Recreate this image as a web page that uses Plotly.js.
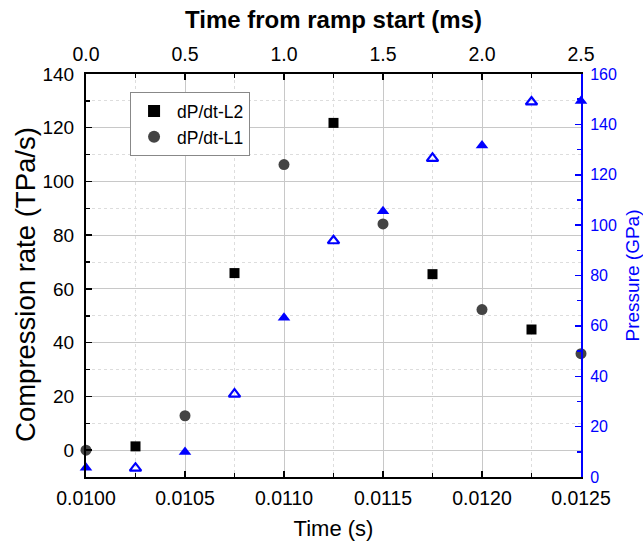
<!DOCTYPE html>
<html>
<head>
<meta charset="utf-8">
<script src="https://cdn.plot.ly/plotly-3.0.1.min.js"></script>
<style>html,body{margin:0;padding:0;background:#fff;}#chart{width:643px;height:542px;}</style>
</head>
<body>
<div id="chart"></div>
<script>
// Compression rate, dP/dt-L2 (squares)
const timeL2 = [0.01025, 0.01075, 0.01125, 0.01175, 0.01225];
const rateL2 = [1.4, 65.9, 121.8, 65.5, 44.9];
// Compression rate, dP/dt-L1 (circles)
const timeL1 = [0.0100, 0.0105, 0.0110, 0.0115, 0.0120, 0.0125];
const rateL1 = [0.0, 12.8, 106.3, 84.2, 52.3, 35.9];
// Pressure, filled triangles
const timeP1 = [0.0100, 0.0105, 0.0110, 0.0115, 0.0120, 0.0125];
const pressP1 = [3.7, 9.9, 63.2, 105.5, 131.6, 149.3];
// Pressure, open triangles
const timeP2 = [0.01025, 0.01075, 0.01125, 0.01175, 0.01225];
const pressP2 = [3.5, 32.9, 93.8, 126.5, 148.9];
// Top axis (ms from ramp start)
const topRange = [0, 2.5];

const FONT = 'Liberation Sans, Arial, sans-serif';
const traces = [
  {x: timeL2, y: rateL2, type: 'scatter', mode: 'markers', name: 'dP/dt-L2',
   marker: {symbol: 'square', size: 10, color: '#000000'}, cliponaxis: false},
  {x: timeL1, y: rateL1, type: 'scatter', mode: 'markers', name: 'dP/dt-L1',
   marker: {symbol: 'circle', size: 11, color: '#444444'}, cliponaxis: false},
  {x: timeP1, y: pressP1, type: 'scatter', mode: 'markers', name: 'P1', showlegend: false,
   yaxis: 'y2', marker: {symbol: 'triangle-up', size: 11, color: '#0000ff'}, cliponaxis: false},
  {x: timeP2, y: pressP2, type: 'scatter', mode: 'markers', name: 'P2', showlegend: false,
   yaxis: 'y2', marker: {symbol: 'triangle-up-open', size: 10, color: '#0000ff', line: {width: 2.2, color: '#0000ff'}}, cliponaxis: false},
  {x: topRange, y: [null, null], xaxis: 'x2', type: 'scatter', mode: 'markers', showlegend: false, hoverinfo: 'skip'}
];

const layout = {
  width: 643, height: 542,
  margin: {l: 86, r: 62, t: 74, b: 65},
  paper_bgcolor: '#fff', plot_bgcolor: '#fff',
  font: {family: FONT, color: '#000', size: 19},
  showlegend: true,
  legend: {x: 0.089, y: 0.955, xanchor: 'left', yanchor: 'top', bgcolor: '#fff',
           bordercolor: '#888', borderwidth: 1, font: {size: 17.5, family: FONT},
           tracegroupgap: 0, itemsizing: 'constant', itemwidth: 36},
  xaxis: {
    range: [0.0100, 0.0125], tick0: 0.0100, dtick: 0.0005, tickformat: '.4f',
    showline: true, linecolor: '#000', linewidth: 2, mirror: false,
    ticks: 'inside', ticklen: 6, tickwidth: 1.5, tickcolor: '#000',
    showgrid: true, gridcolor: '#c8c8c8', gridwidth: 1, zeroline: false,
    tickfont: {size: 19.5}, ticklabelstandoff: 3,
    minor: {dtick: 0.00025, ticks: 'inside', ticklen: 4, tickcolor: '#000',
            showgrid: true, gridcolor: '#dddddd', griddash: 'dot', gridwidth: 1},
    title: {text: 'Time (s)', font: {size: 22}, standoff: 12}
  },
  xaxis2: {
    overlaying: 'x', side: 'top', range: [0, 2.5], tick0: 0, dtick: 0.5, tickformat: '.1f',
    showline: true, linecolor: '#000', linewidth: 2,
    ticks: 'inside', ticklen: 6, tickwidth: 1.5, tickcolor: '#000',
    showgrid: false, zeroline: false, tickfont: {size: 19.5}, ticklabelstandoff: 3,
    minor: {dtick: 0.25, ticks: 'inside', ticklen: 4, tickcolor: '#000', showgrid: false},
    title: {text: '<b>Time from ramp start (ms)</b>', font: {size: 24}, standoff: 8}
  },
  yaxis: {
    range: [-10, 140], tick0: 0, dtick: 20,
    showline: true, linecolor: '#000', linewidth: 2,
    ticks: 'inside', ticklen: 6, tickwidth: 1.5, tickcolor: '#000',
    showgrid: true, gridcolor: '#c8c8c8', gridwidth: 1, zeroline: false,
    tickfont: {size: 19}, ticklabelstandoff: 6,
    minor: {dtick: 10, ticks: 'inside', ticklen: 4, tickcolor: '#000',
            showgrid: true, gridcolor: '#dddddd', griddash: 'dot', gridwidth: 1}
  },
  yaxis2: {
    overlaying: 'y', side: 'right', range: [0, 160], tick0: 0, dtick: 20,
    showline: true, linecolor: '#0000ff', linewidth: 2,
    ticks: 'inside', ticklen: 6, tickwidth: 1.5, tickcolor: '#0000ff',
    showgrid: false, zeroline: false,
    tickfont: {size: 16, color: '#0000ff'}, ticklabelstandoff: 4,
    minor: {dtick: 10, ticks: 'inside', ticklen: 4, tickcolor: '#0000ff', showgrid: false},
    title: {text: 'Pressure (GPa)', font: {size: 19, color: '#0000ff'}, standoff: 10}
  },
  annotations: [
    {text: 'Compression rate (TPa/s)', xref: 'paper', yref: 'paper', x: -0.122, y: 0.478,
     xanchor: 'center', yanchor: 'middle', textangle: -90, showarrow: false,
     font: {size: 27.5, color: '#000', family: FONT}}
  ]
};

Plotly.newPlot('chart', traces, layout, {displayModeBar: false, staticPlot: true});
</script>
</body>
</html>
